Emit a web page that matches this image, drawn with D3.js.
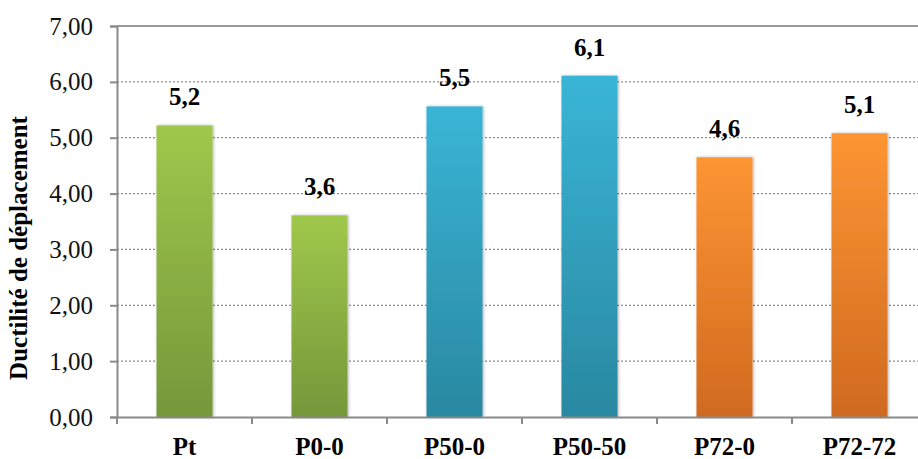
<!DOCTYPE html>
<html>
<head>
<meta charset="utf-8">
<script src="https://cdn.jsdelivr.net/npm/d3@7"></script>
<style>
  body { margin: 0; background: #fff; }
  svg { display: block; }
</style>
</head>
<body>
<div></div>
<script>
const categories = ['Pt', 'P0-0', 'P50-0', 'P50-50', 'P72-0', 'P72-72'];
const values = [5.22, 3.61, 5.56, 6.11, 4.65, 5.08];
const valueLabels = ['5,2', '3,6', '5,5', '6,1', '4,6', '5,1'];
const groups = ['green', 'green', 'blue', 'blue', 'orange', 'orange'];
const yTicks = [0, 1, 2, 3, 4, 5, 6, 7];
const yTitle = 'Ductilité de déplacement';

const svgWidth = 918,
    svgHeight = 459;
const plotLeft = 117, plotTop = 26, plotBottom = 417, plotRight = 927;
const serif = '"Liberation Serif", "Times New Roman", "DejaVu Serif", serif';

const palette = {
    green: ['#9fc84b', '#76973a'],
    blue: ['#39b5d6', '#2a88a1'],
    orange: ['#fd9533', '#d06a20']
};

const svg = d3.select('body')
    .select('div')
    .append('svg')
    .attr('width', svgWidth)
    .attr('height', svgHeight);

const defs = svg.append('defs');
Object.keys(palette).forEach(k => {
    const g = defs.append('linearGradient')
        .attr('id', 'grad-' + k)
        .attr('x1', 0).attr('y1', 0).attr('x2', 0).attr('y2', 1);
    g.append('stop').attr('offset', '0%').attr('stop-color', palette[k][0]);
    g.append('stop').attr('offset', '100%').attr('stop-color', palette[k][1]);
});
const shadow = defs.append('filter').attr('id', 'shadow')
    .attr('x', '-20%').attr('y', '-5%').attr('width', '140%').attr('height', '110%');
shadow.append('feDropShadow')
    .attr('dx', 1).attr('dy', 0).attr('stdDeviation', 1.5)
    .attr('flood-color', '#000').attr('flood-opacity', 0.3);

const xScale = d3.scaleBand()
    .domain(categories)
    .range([plotLeft, plotRight])
    .paddingInner(0.585)
    .paddingOuter(0.2925);

const xBand = d3.scaleBand()
    .domain(categories)
    .range([plotLeft, plotRight]);

const yScale = d3.scaleLinear()
    .domain([0, 7])
    .range([plotBottom, plotTop]);

// gridlines
svg.append('g')
    .selectAll('line')
    .data(yTicks.filter(d => d > 0))
    .enter()
    .append('line')
    .attr('x1', plotLeft)
    .attr('x2', svgWidth)
    .attr('y1', d => yScale(d))
    .attr('y2', d => yScale(d))
    .attr('stroke', d => d === 7 ? '#9a9a9a' : '#8a8a8a')
    .attr('stroke-width', d => d === 7 ? 2 : 1.2)
    .attr('stroke-dasharray', d => d === 7 ? null : '2,2');

// bars
svg.append('g')
    .selectAll('rect')
    .data(values)
    .enter()
    .append('rect')
    .attr('x', (d, i) => xScale(categories[i]))
    .attr('y', d => yScale(d))
    .attr('width', xScale.bandwidth())
    .attr('height', d => plotBottom - yScale(d))
    .attr('fill', (d, i) => `url(#grad-${groups[i]})`)
    .attr('filter', 'url(#shadow)');

// value labels
svg.append('g')
    .selectAll('text')
    .data(values)
    .enter()
    .append('text')
    .attr('x', (d, i) => xScale(categories[i]) + xScale.bandwidth() / 2)
    .attr('y', d => yScale(d) - 20)
    .attr('text-anchor', 'middle')
    .style('font-family', serif)
    .style('font-weight', 'bold')
    .style('font-size', '25px')
    .text((d, i) => valueLabels[i]);

// axes
const yAxis = d3.axisLeft(yScale)
    .tickValues(yTicks)
    .tickSize(7)
    .tickPadding(17)
    .tickFormat(d => d3.format('.2f')(d).replace('.', ','));

const gy = svg.append('g')
    .attr('transform', `translate(${plotLeft}, 0)`)
    .call(yAxis);
gy.select('.domain').attr('stroke', '#8a8a8a').attr('stroke-width', 2);
gy.selectAll('.tick line').attr('stroke', '#8a8a8a').attr('stroke-width', 2);
gy.selectAll('.tick text')
    .style('font-family', serif)
    .style('font-size', '25px')
    .attr('fill', '#111');

const xAxis = d3.axisBottom(xBand)
    .tickSize(0)
    .tickPadding(20);

const gx = svg.append('g')
    .attr('transform', `translate(0, ${plotBottom})`)
    .call(xAxis);
gx.select('.domain').attr('stroke', '#8a8a8a').attr('stroke-width', 2);
gx.selectAll('.tick text')
    .style('font-family', serif)
    .style('font-weight', 'bold')
    .style('font-size', '25px')
    .attr('fill', '#000');

// category boundary ticks
gx.append('g')
    .selectAll('line')
    .data(categories)
    .enter()
    .append('line')
    .attr('x1', d => xBand(d))
    .attr('x2', d => xBand(d))
    .attr('y1', 0)
    .attr('y2', 7)
    .attr('stroke', '#8a8a8a')
    .attr('stroke-width', 2);

svg.append('text')
    .attr('transform', 'translate(27, 248) rotate(-90)')
    .attr('text-anchor', 'middle')
    .style('font-family', serif)
    .style('font-weight', 'bold')
    .style('font-size', '25px')
    .text(yTitle);
</script>
</body>
</html>
